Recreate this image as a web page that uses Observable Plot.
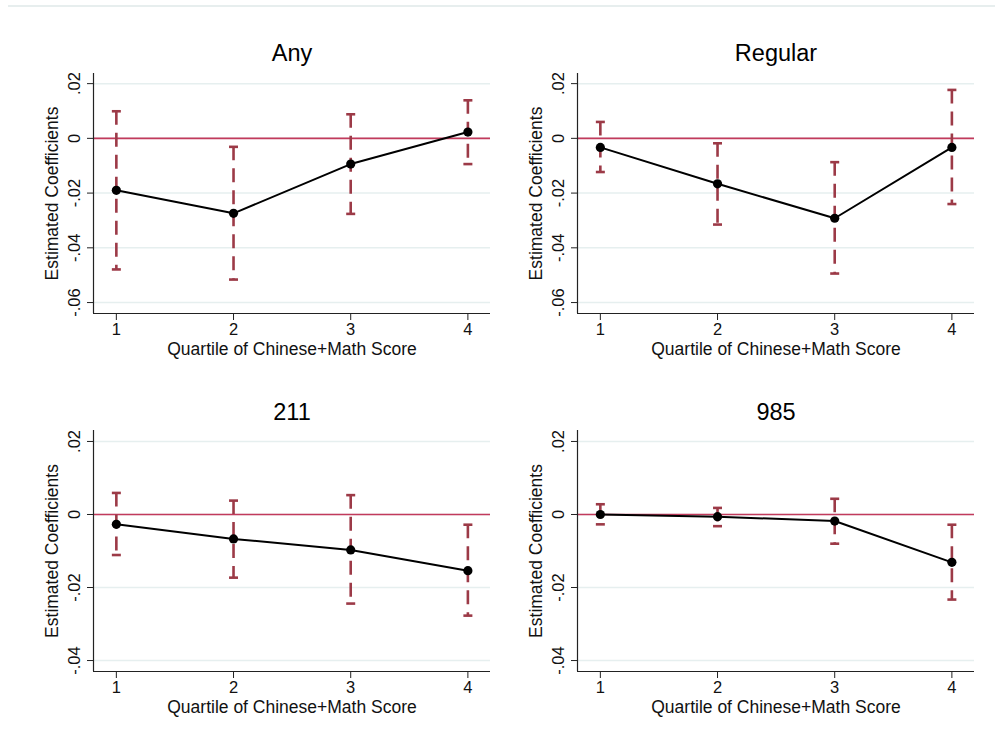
<!DOCTYPE html>
<html>
<head>
<meta charset="utf-8">
<script src="https://cdn.jsdelivr.net/npm/d3@7"></script>
<script src="https://cdn.jsdelivr.net/npm/@observablehq/plot@0.6"></script>
<style>
  html, body { margin: 0; padding: 0; background: #fff; }
  #wrap { position: relative; width: 995px; height: 753px; background: #fff; overflow: hidden; }
  #topline { position: absolute; left: 8px; top: 5px; width: 987px; height: 2px; background: #e7eeee; z-index: 5; }
  .panel { position: absolute; }
  .panel svg { background: transparent !important; }
</style>
</head>
<body>
<div id="wrap"><div id="topline"></div></div>
<script>
// ---- Data ----
const quartiles = [1, 2, 3, 4];

const anyCoef = [-0.0190, -0.0274, -0.0094, 0.0023];
const anyLo   = [-0.0479, -0.0516, -0.0276, -0.0094];
const anyHi   = [ 0.0099, -0.0031,  0.0088,  0.0139];

const regularCoef = [-0.0033, -0.0166, -0.0292, -0.0033];
const regularLo   = [-0.0123, -0.0315, -0.0494, -0.0240];
const regularHi   = [ 0.0060, -0.0018, -0.0087,  0.0177];

const c211Coef = [-0.0027, -0.0067, -0.0097, -0.0154];
const c211Lo   = [-0.0111, -0.0173, -0.0244, -0.0277];
const c211Hi   = [ 0.0059,  0.0038,  0.0053, -0.0028];

const c985Coef = [ 0.0000, -0.0006, -0.0018, -0.0131];
const c985Lo   = [-0.0027, -0.0032, -0.0080, -0.0233];
const c985Hi   = [ 0.0028,  0.0018,  0.0043, -0.0028];

const panelTitles = ["Any", "Regular", "211", "985"];
const xLabel = "Quartile of Chinese+Math Score";
const yLabel = "Estimated Coefficients";
const topTicks = [-0.06, -0.04, -0.02, 0, 0.02];
const bottomTicks = [-0.04, -0.02, 0, 0.02];

// ---- Build ----
const series = [
  {coef: anyCoef, lo: anyLo, hi: anyHi},
  {coef: regularCoef, lo: regularLo, hi: regularHi},
  {coef: c211Coef, lo: c211Lo, hi: c211Hi},
  {coef: c985Coef, lo: c985Lo, hi: c985Hi}
];

const xDomain = [0.805, 4.193];
const topDomain = [-0.064, 0.0237];
const bottomDomain = [-0.043, 0.023];

const capSymbol = {
  draw(ctx, size) {
    const r = Math.sqrt(size / Math.PI);
    ctx.moveTo(-r, 0);
    ctx.lineTo(r, 0);
  }
};

const fmt = d => d === 0 ? "0" : d3.format(".2f")(d).replace("0.", ".").replace("\u2212", "-");

const layout = [
  {left: 0,   top: 0,   h: 240, ticks: topTicks,    dom: topDomain,    tdy: -20},
  {left: 484, top: 0,   h: 240, ticks: topTicks,    dom: topDomain,    tdy: -20},
  {left: 0,   top: 357, h: 241, ticks: bottomTicks, dom: bottomDomain, tdy: -18},
  {left: 484, top: 357, h: 241, ticks: bottomTicks, dom: bottomDomain, tdy: -18}
];

const ML = 93, MR = 10, MT = 73, MB = 60, FW = 397;
const errColor = "#9c3a47";
const zeroColor = "#c23a5c";
const FS = 17.5;
const TS = 16.5;

series.forEach((s, i) => {
  const L = layout[i];
  const rows = quartiles.map((q, j) => ({q, coef: s.coef[j], lo: s.lo[j], hi: s.hi[j]}));
  const chart = Plot.plot({
    width: ML + FW + MR,
    height: MT + L.h + MB,
    marginLeft: ML, marginRight: MR, marginTop: MT, marginBottom: MB,
    style: {fontFamily: "'Liberation Sans', Arial, sans-serif", fontSize: TS + "px", color: "#111", background: "transparent", overflow: "visible"},
    x: {domain: xDomain, ticks: quartiles},
    y: {domain: L.dom, ticks: L.ticks},
    marks: [
      Plot.gridY(L.ticks, {stroke: "#e6efef", strokeOpacity: 1, strokeWidth: 1.5}),
      Plot.ruleY([0], {stroke: zeroColor, strokeWidth: 1.6}),
      Plot.ruleX(rows, {x: "q", y1: "hi", y2: "lo", stroke: errColor, strokeWidth: 2.6, strokeDasharray: "14,8"}),
      Plot.dot(rows, {x: "q", y: "hi", symbol: capSymbol, r: 4.5, stroke: errColor, strokeWidth: 2.6, fill: "none"}),
      Plot.dot(rows, {x: "q", y: "lo", symbol: capSymbol, r: 4.5, stroke: errColor, strokeWidth: 2.6, fill: "none"}),
      Plot.line(rows, {x: "q", y: "coef", stroke: "#000", strokeWidth: 2}),
      Plot.dot(rows, {x: "q", y: "coef", r: 4.6, fill: "#000", stroke: "none"}),
      Plot.ruleX([xDomain[0]], {stroke: "#222", strokeWidth: 1.2}),
      Plot.ruleY([L.dom[0]], {stroke: "#222", strokeWidth: 1.2}),
      Plot.axisY(L.ticks, {tickFormat: fmt, tickRotate: -90, tickSize: 6, tickPadding: 8, stroke: "#222", fill: "#111", fontSize: TS, label: null}),
      Plot.axisX(quartiles, {tickFormat: d => String(d), tickSize: 7, tickPadding: 3, stroke: "#222", fill: "#111", fontSize: TS, label: null}),
      Plot.text([yLabel], {frameAnchor: "left", dx: -41, rotate: -90, textAnchor: "middle", lineAnchor: "middle", fontSize: FS, fill: "#111"}),
      Plot.text([xLabel], {frameAnchor: "bottom", dy: 36, textAnchor: "middle", lineAnchor: "middle", fontSize: FS, fill: "#111"}),
      Plot.text([panelTitles[i]], {frameAnchor: "top", dy: L.tdy, textAnchor: "middle", lineAnchor: "middle", fontSize: 23.5, fill: "#000"})
    ]
  });
  const div = document.createElement("div");
  div.className = "panel";
  div.style.left = L.left + "px";
  div.style.top = L.top + "px";
  div.appendChild(chart);
  document.getElementById("wrap").appendChild(div);
});
</script>
</body>
</html>
